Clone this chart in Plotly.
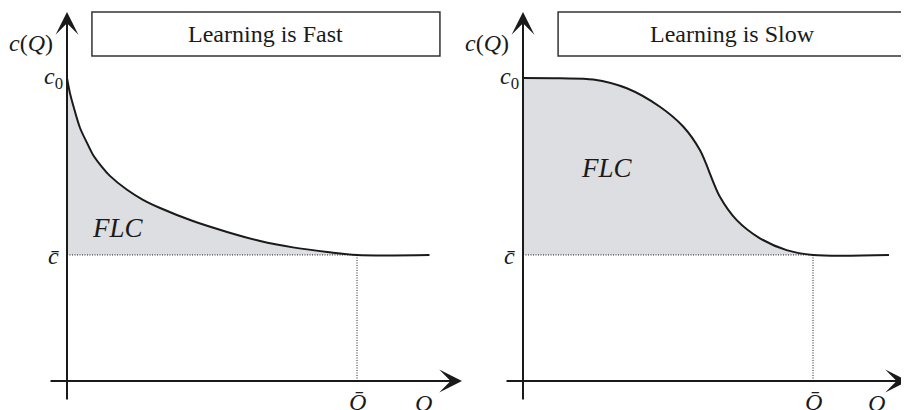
import plotly.graph_objects as go

# ---------------- data ----------------
Q_fast = [0, 0.01, 0.021, 0.045, 0.069, 0.09, 0.121, 0.148, 0.207, 0.262, 0.321, 0.434,
          0.552, 0.666, 0.779, 0.897, 1.0, 1.25]
c_fast = [1.0, 0.951, 0.911, 0.835, 0.786, 0.746, 0.706, 0.677, 0.631, 0.598, 0.571, 0.528,
          0.492, 0.462, 0.441, 0.426, 0.416, 0.416]

Q_slow = [0, 0.128, 0.242, 0.358, 0.472, 0.553, 0.610, 0.679, 0.737, 0.817,
          0.909, 1.0, 1.262]
c_slow = [1.0, 0.999, 0.995, 0.966, 0.905, 0.839, 0.762, 0.608, 0.531, 0.471,
          0.432, 0.416, 0.416]

C0 = 1.0
C_BAR = 0.416
Q_BAR = 1.0
titles = ["Learning is Fast", "Learning is Slow"]
region_label = "FLC"

# ---------------- layout helpers ----------------
OFF = 8                 # default page body margin
WF, HF = 901, 402       # figure size (fits inside the 909x410 window)
PX_Q = 290.0            # pixels per unit Q
PX_C = 303.0            # pixels per unit c
ORIG_Y = 381.0          # window y of c = 0
INK = "#1a1a1a"
FONT = "Liberation Serif, Times New Roman, Times, serif"


def xrange_for(dom, orig_x):
    return [(OFF + dom[0] * WF - orig_x) / PX_Q, (OFF + dom[1] * WF - orig_x) / PX_Q]


yr = [(ORIG_Y - (OFF + HF)) / PX_C, (ORIG_Y - OFF) / PX_C]
dom1 = [0, 468 / WF]
dom2 = [446 / WF, 1.0]

fig = go.Figure()

panels = [
    dict(Q=Q_fast, c=c_fast, xa="x", ya="y", title=titles[0],
         box=(0.086, 1.286), tx=0.686, flc=(0.176, 0.505), xtip=1.362, qx=1.23),
    dict(Q=Q_slow, c=c_slow, xa="x2", ya="y2", title=titles[1],
         box=(0.121, 1.324), tx=0.722, flc=(0.290, 0.703), xtip=1.3276, qx=1.22),
]

annotations = []
shapes = []
for p in panels:
    xa, ya = p["xa"], p["ya"]
    # invisible baseline for the shaded region
    fig.add_trace(go.Scatter(x=[0, Q_BAR], y=[C_BAR, C_BAR], mode="lines",
                             line=dict(width=0, color="rgba(0,0,0,0)"),
                             xaxis=xa, yaxis=ya, showlegend=False, hoverinfo="skip"))
    # curve with fill
    fig.add_trace(go.Scatter(x=p["Q"], y=p["c"], mode="lines",
                             line=dict(color=INK, width=2, shape="spline", smoothing=0.9),
                             fill="tonexty", fillcolor="#dddee1",
                             xaxis=xa, yaxis=ya, showlegend=False, hoverinfo="skip"))
    # dotted guides
    fig.add_trace(go.Scatter(x=[0, Q_BAR, Q_BAR], y=[C_BAR, C_BAR, 0], mode="lines",
                             line=dict(color=INK, width=1, dash="1px,1.5px"),
                             xaxis=xa, yaxis=ya, showlegend=False, hoverinfo="skip"))
    # axes as arrows
    for (hx, hy, tx_, ty_) in [(0, 1.218, 0, -0.066), (p["xtip"], 0, -0.062, 0)]:
        annotations.append(dict(x=hx, y=hy, ax=tx_, ay=ty_, xref=xa, yref=ya,
                                axref=xa, ayref=ya, text="", showarrow=True,
                                arrowhead=3, arrowsize=1.9, arrowwidth=2,
                                arrowcolor=INK))
    # title box
    shapes.append(dict(type="rect", xref=xa, yref=ya, x0=p["box"][0], x1=p["box"][1],
                       y0=1.073, y1=1.218, line=dict(color="#333333", width=1.5),
                       fillcolor="white", layer="above"))
    annotations.append(dict(x=p["tx"], y=1.145, xref=xa, yref=ya, text=p["title"],
                            showarrow=False, font=dict(family=FONT, size=24, color=INK)))

    # labels
    def lab(x, y, t, s=24):
        return dict(x=x, y=y, xref=xa, yref=ya, text=t, showarrow=False,
                    xanchor="center", yanchor="middle",
                    font=dict(family=FONT, size=s, color=INK))

    annotations += [
        lab(-0.124, 1.116, "<i>c</i>(<i>Q</i>)"),
        lab(-0.048, 1.0, "<i>c</i><sub>0</sub>"),
        lab(-0.045, C_BAR - 0.005, "<i>c\u0304</i>"),
        lab(Q_BAR, -0.07, "<i>Q\u0304</i>"),
        lab(p["qx"], -0.072, "<i>Q</i>"),
        lab(p["flc"][0], p["flc"][1], "<i>%s</i>" % region_label, 27),
    ]

fig.update_layout(
    width=WF, height=HF, margin=dict(l=0, r=0, t=0, b=0),
    paper_bgcolor="white", plot_bgcolor="rgba(0,0,0,0)",
    xaxis=dict(domain=dom1, range=xrange_for(dom1, 67), visible=False, fixedrange=True),
    yaxis=dict(domain=[0, 1], range=yr, visible=False, fixedrange=True),
    xaxis2=dict(domain=dom2, range=xrange_for(dom2, 523), visible=False, anchor="y2",
                fixedrange=True),
    yaxis2=dict(domain=[0, 1], range=yr, visible=False, anchor="x2", fixedrange=True),
    annotations=annotations, shapes=shapes, showlegend=False,
)

fig.write_html("out.html")
